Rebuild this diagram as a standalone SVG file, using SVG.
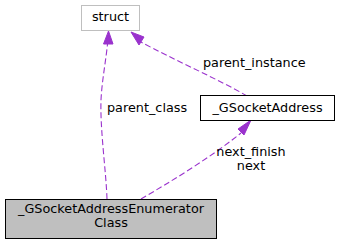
<svg xmlns="http://www.w3.org/2000/svg" width="341" height="245" viewBox="0 0 341 245">
  <style>
    text { font-family: "DejaVu Sans", "Liberation Sans", sans-serif; font-size: 12.8px; fill: #000; }
    .edge { fill: none; stroke: #9a32cd; stroke-width: 1.1; stroke-dasharray: 6,3; }
    .head { fill: #9a32cd; stroke: #9a32cd; }
  </style>
  <rect width="341" height="245" fill="#fff"/>
  <g id="edges">
    <path class="edge" d="M107,199 C106,170 100,130 101,100 C102,80 106,60 107.5,44"/>
    <polygon class="head" points="103.5,44 108.5,31 113,44"/>
    <text x="107" y="112">parent_class</text>
    <path class="edge" d="M247,96 C220,80 170,58 141,42"/>
    <polygon class="head" points="139,45 131,32 144,37"/>
    <text x="203" y="67">parent_instance</text>
    <path class="edge" d="M141,199 C170,182 210,158 241,133"/>
    <polygon class="head" points="238,129 251,120 244,135"/>
    <text x="251" y="156" text-anchor="middle">next_finish</text>
    <text x="251" y="170" text-anchor="middle">next</text>
  </g>
  <g id="node-struct">
    <rect x="81.5" y="5.5" width="58" height="25" fill="#fff" stroke="#bfbfbf"/>
    <text x="110.5" y="21" text-anchor="middle">struct</text>
  </g>
  <g id="node-gsocketaddress">
    <rect x="200.5" y="95.5" width="134" height="25" fill="#fff" stroke="#000"/>
    <text x="267.5" y="112" text-anchor="middle">_GSocketAddress</text>
  </g>
  <g id="node-enumerator-class">
    <rect x="5.5" y="199.5" width="211" height="39" fill="#bfbfbf" stroke="#000"/>
    <text x="111" y="213" text-anchor="middle">_GSocketAddressEnumerator</text>
    <text x="111" y="227" text-anchor="middle">Class</text>
  </g>
</svg>
